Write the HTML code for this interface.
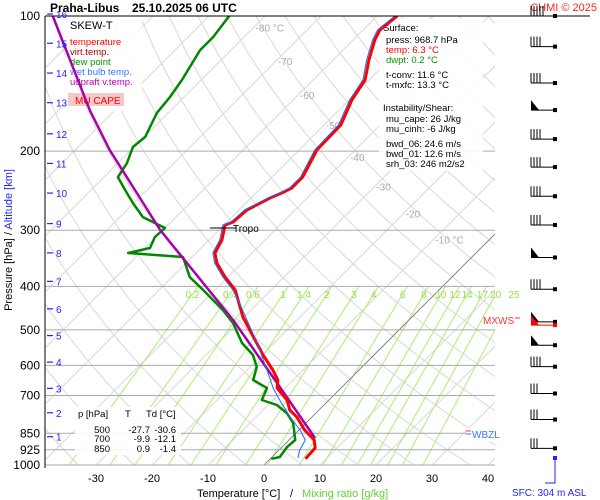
<!DOCTYPE html>
<html><head><meta charset="utf-8"><style>
html,body{margin:0;padding:0;background:#fff;}
svg{display:block;font-family:"Liberation Sans",sans-serif;}
</style></head><body>
<svg id="chart" width="600" height="500" viewBox="0 0 600 500" xmlns="http://www.w3.org/2000/svg">
<defs><clipPath id="plotclip"><rect x="45" y="16" width="450" height="449"/></clipPath></defs>
<rect x="0" y="0" width="600" height="500" fill="#fff"/>
<g id="grid" clip-path="url(#plotclip)"></g>
<g id="isobars"></g>
<g id="mixlabels" font-size="10" fill="#99dd44" text-anchor="middle"></g>
<g id="isolabels" font-size="10" fill="#aaaaaa"></g>
<g>
<rect x="66" y="17" width="76" height="94" fill="#fff" opacity="0.85"/>
<text x="70" y="29" font-size="11" fill="#000">SKEW-T</text>
<text x="70" y="45" font-size="9.5" fill="#ff0000">temperature</text>
<text x="70" y="55" font-size="9.5" fill="#aa0000">virt.temp.</text>
<text x="70" y="65" font-size="9.5" fill="#009900">dew point</text>
<text x="70" y="75" font-size="9.5" fill="#3377ff">wet bulb temp.</text>
<text x="70" y="85" font-size="9.5" fill="#bb00bb">udpraft v.temp.</text>
<rect x="68" y="93" width="56" height="13" fill="#f8c8c8"/>
<text x="75" y="104" font-size="10" fill="#ff0000">MU CAPE</text>
</g>
<g font-size="9.5">
<rect x="379" y="19" width="104" height="152" fill="#fff" opacity="0.9"/>
<text x="383" y="31" fill="#000">Surface:</text>
<text x="386" y="43" fill="#000">press: 968.7 hPa</text>
<text x="386" y="53" fill="#ff0000">temp: 6.3 °C</text>
<text x="386" y="63" fill="#009900">dwpt: 0.2 °C</text>
<text x="386" y="78" fill="#000">t-conv: 11.6 °C</text>
<text x="386" y="88" fill="#000">t-mxfc: 13.3 °C</text>
<text x="383" y="111" fill="#000">Instability/Shear:</text>
<text x="386" y="122" fill="#000">mu_cape: 26 J/kg</text>
<text x="386" y="132" fill="#000">mu_cinh: -6 J/kg</text>
<text x="386" y="147" fill="#000">bwd_06: 24.6 m/s</text>
<text x="386" y="157" fill="#000">bwd_01: 12.6 m/s</text>
<text x="386" y="167" fill="#000">srh_03: 246 m2/s2</text>
</g>
<g font-size="9.5" fill="#000">
<rect x="75" y="407" width="106" height="48" fill="#fff" opacity="0.9"/>
<text x="78" y="417">p [hPa]</text><text x="125" y="417">T</text><text x="146" y="417">Td [°C]</text>
<text x="110" y="433" text-anchor="end">500</text><text x="150" y="433" text-anchor="end">-27.7</text><text x="176" y="433" text-anchor="end">-30.6</text>
<text x="110" y="442" text-anchor="end">700</text><text x="150" y="442" text-anchor="end">-9.9</text><text x="176" y="442" text-anchor="end">-12.1</text>
<text x="110" y="452" text-anchor="end">850</text><text x="150" y="452" text-anchor="end">0.9</text><text x="176" y="452" text-anchor="end">-1.4</text>
</g>
<g id="series" clip-path="url(#plotclip)"></g>
<line x1="210" y1="228" x2="236" y2="228" stroke="#000" stroke-width="1"/>
<text x="233" y="232" font-size="10" fill="#000">Tropo</text>
<line x1="45" y1="16" x2="45" y2="468" stroke="#000" stroke-width="1"/>
<line x1="45" y1="16" x2="590" y2="16" stroke="#000" stroke-width="1"/>
<g id="yticks" font-size="12" fill="#000" text-anchor="end"></g>
<g id="kmticks" font-size="10" fill="#2222ff"></g>
<g id="xticks" font-size="11" fill="#000" text-anchor="middle"></g>
<text x="197" y="497" font-size="11" fill="#000">Temperature [°C]</text>
<text x="290" y="497" font-size="11" fill="#000">/</text>
<text x="302" y="497" font-size="11" fill="#66cc33">Mixing ratio [g/kg]</text>
<text transform="translate(12,240) rotate(-90)" font-size="11" text-anchor="middle"><tspan fill="#000">Pressure [hPa] / </tspan><tspan fill="#2222ff">Altitude [km]</tspan></text>
<text x="50" y="12" font-size="12" font-weight="bold" fill="#000">Praha-Libus</text>
<text x="132" y="12" font-size="12" font-weight="bold" fill="#000">25.10.2025 06 UTC</text>
<text x="597" y="11" font-size="11" fill="#ff2222" text-anchor="end">CHMI © 2025</text>
<text x="483" y="324" font-size="10" fill="#ff3333">MXWS</text>
<line x1="515" y1="318" x2="520" y2="318" stroke="#ff3333"/>
<rect x="466" y="428" width="42" height="14" fill="#fff" opacity="0.9"/>
<line x1="466" y1="431" x2="471" y2="431" stroke="#ff3333"/>
<line x1="466" y1="434" x2="471" y2="434" stroke="#3377ff"/>
<text x="472" y="438" font-size="10" fill="#3377ff">WBZL</text>
<g id="winds"></g>
<polyline points="555,458 555,483 545,483" fill="none" stroke="#2222ff" stroke-width="1"/>
<rect x="553" y="456" width="4" height="4" fill="#2222ff"/>
<text x="512" y="496" font-size="10" fill="#2222ff">SFC: 304 m ASL</text>
</svg>
<script>
var tempP = [100,107.4,113.1,125.3,138.8,153.8,174.9,198.8,228.4,241.6,247.9,254.3,270.4,287.6,292.1,315.4,337.2,354.9,381.5,407.6,468.1,526.8,568.9,614.3,646.8,674.0,716.5,754.4,782.0,835.6,879.6,916.7,968.7];
var tempT = [-56.4,-57.0,-56.1,-53.6,-50.7,-49.5,-47.0,-46.8,-44.5,-44.5,-45.4,-46.6,-48.6,-48.9,-49.8,-47.7,-46.6,-44.5,-40.5,-36.4,-30.2,-23.9,-19.8,-15.4,-12.7,-11.4,-7.5,-5.2,-2.7,1.0,4.5,6.1,6.3];
var dewP = [100,111.4,119.1,138.8,151.5,164.4,185.9,195.8,212.5,228.4,244.1,260.9,280.4,296.6,310.6,328.7,337.2,344.2,381.5,407.6,451.8,482.7,535.0,568.9,604.9,646.8,674.0,716.5,735.2,766.2,806.1,879.6,912.1,959.8,968.7];
var dewT = [-86.4,-85.5,-85.5,-83.4,-82.5,-82.0,-79.8,-80.2,-78.4,-77.5,-73.9,-70.2,-65.9,-60.0,-60.2,-59.1,-62.1,-51.6,-46.8,-42.1,-35.0,-30.9,-25.7,-21.6,-18.8,-17.1,-13.2,-12.0,-8.4,-5.2,-2.3,1.1,0.9,1.4,0.2];
var wetP = [100,107.4,113.1,125.3,138.8,153.8,174.9,198.8,228.4,241.6,247.9,254.3,270.4,287.6,292.1,315.4,337.2,354.9,381.5,407.6,429.0,535.0,624.0,674.0,716.5,782.0,835.6,879.6,926.0,964.7];
var wetT = [-56.8,-57.4,-56.5,-54.0,-51.1,-49.9,-47.4,-47.2,-44.9,-44.9,-45.8,-47.0,-49.0,-49.3,-50.2,-48.1,-47.0,-44.9,-40.9,-36.8,-34.1,-23.0,-15.7,-12.1,-8.8,-3.9,0.2,2.9,3.7,4.8];
var parcelP = [100,162.0,198.8,299.6,475.5,646.8,870.9];
var parcelT = [-117.9,-94.5,-83.8,-60.5,-31.4,-13.2,4.3];
var pressureTicks = [100,200,300,400,500,600,700,850,925,1000];
var kmLevels = [16,15,14,13,12,11,10,9,8,7,6,5,4,3,2,1];
var kmPressure = [99,115,134,156,183,213,248,290,337,390,449,515,590,675,765,865];
var tempTicks = [-30,-20,-10,0,10,20,30,40];
var isoLabelT = [-80,-70,-60,-50,-40,-30,-20,-10];
var isoLabelText = ["-80 °C","-70","-60","-50","-40","-30","-20","-10 °C"];
var isoLabelP = [106,126,150,175,206,240,275,315];
var mixRatios = [0.2,0.4,0.6,1,1.4,2,3,4,6,8,10,12,14,17,20,25];
var mixLabels = ["0.2","0.4","0.6","1","1.4","2","3","4","6","8","10","12","14","17","20","25"];
var windP = [100,117,141,162,188,217,252,292,345,406,480,488,541,604,693,792,918];
var windBarbs = [5,4,4,-1,4,4,4,4,-1,4,-1,-1,-1,4,3,3,3];

function Y(p){return 465-449*Math.log10(1000/p);}
function X(T,p){return 264+5.6*T+(465-Y(p));}
var NS="http://www.w3.org/2000/svg";
function mk(tag,parent,attrs){var e=document.createElementNS(NS,tag);for(var k in attrs)e.setAttribute(k,attrs[k]);parent.appendChild(e);return e;}
function pathFrom(ps,ts){var d="";for(var i=0;i<ps.length;i++){d+=(i?"L":"M")+X(ts[i],ps[i]).toFixed(1)+","+Y(ps[i]).toFixed(1);}return d;}

var grid=document.getElementById("grid");
for(var t=-130;t<=50;t+=10){
  var l=mk("line",grid,{x1:X(t,1000),y1:Y(1000),x2:X(t,100),y2:Y(100),stroke:"#d8d8d8","stroke-width":1});
  
  
}
for(var th=230;th<=500;th+=10){
  var d="";
  for(var p=1000;p>=100;p-=20){var T=th*Math.pow(p/1000,0.286)-273.15;d+=(p==1000?"M":"L")+X(T,p).toFixed(1)+","+Y(p).toFixed(1);}
  var a=mk("path",grid,{d:d,fill:"none",stroke:"#d8d8d8","stroke-width":1});
  
  
}
function mixT(w,p){var e=w*p/(622+w);var L=Math.log(e/6.112);return 243.5*L/(17.67-L);}
var ml=document.getElementById("mixlabels");
for(var i=0;i<mixRatios.length;i++){
  var w=mixRatios[i];
  var m=mk("line",grid,{x1:X(mixT(w,1000),1000),y1:Y(1000),x2:X(mixT(w,400),400),y2:Y(400),stroke:"#aaee77","stroke-width":1});
  
  
  var tx=mk("text",ml,{x:X(mixT(w,416),416).toFixed(1),y:298});
  tx.textContent=mixLabels[i];
  
  
}
var z=mk("line",grid,{x1:X(0,1000),y1:Y(1000),x2:X(0,100),y2:Y(100),stroke:"#777","stroke-width":0.8});


var il=document.getElementById("isolabels");
for(var i=0;i<isoLabelT.length;i++){
  var tx=mk("text",il,{x:(X(isoLabelT[i],isoLabelP[i])+2).toFixed(1),y:(Y(isoLabelP[i])+4).toFixed(1)});
  tx.textContent=isoLabelText[i];
  
  
}
var ib=document.getElementById("isobars");
var yt=document.getElementById("yticks");
for(var i=0;i<pressureTicks.length;i++){
  var p=pressureTicks[i];
  if(p!=100){
    var l=mk("line",ib,{x1:45,y1:Y(p),x2:495,y2:Y(p),stroke:"#aaaaaa","stroke-width":1});
    
    
  }
  var tx=mk("text",yt,{x:40,y:(Y(p)+4).toFixed(1)});
  tx.textContent=String(p);
  
  
}
var kt=document.getElementById("kmticks");
for(var i=0;i<kmLevels.length;i++){
  var y=Y(kmPressure[i]);
  var l=mk("line",kt,{x1:47,y1:y,x2:53,y2:y,stroke:"#2222ff","stroke-width":1.2});
  
  
  var tx=mk("text",kt,{x:56,y:(y+4).toFixed(1)});
  tx.textContent=String(kmLevels[i]);
  
  
}
var xt=document.getElementById("xticks");
for(var i=0;i<tempTicks.length;i++){
  var tx=mk("text",xt,{x:X(tempTicks[i],1000).toFixed(1),y:482});
  tx.textContent=String(tempTicks[i]);
  
  
}
var sg=document.getElementById("series");
var dp=mk("path",sg,{d:pathFrom(dewP,dewT),fill:"none",stroke:"#008800","stroke-width":2.5,"stroke-linejoin":"round"});


var pc=mk("path",sg,{d:pathFrom(parcelP,parcelT),fill:"none",stroke:"#aa00aa","stroke-width":2.5,"stroke-linejoin":"round"});


var tp=mk("path",sg,{d:pathFrom(tempP,tempT),fill:"none",stroke:"#ff0000","stroke-width":3,"stroke-linejoin":"round"});


var wb=mk("path",sg,{d:pathFrom(wetP,wetT),fill:"none",stroke:"#2266ff","stroke-width":1,"stroke-linejoin":"round"});


var wg=document.getElementById("winds");
for(var i=0;i<windP.length;i++){
  var y=Y(windP[i]);
  var col=(windP[i]==488)?"#ff0000":"#000";
  var s=mk("line",wg,{x1:531,y1:y,x2:555,y2:y,stroke:col,"stroke-width":1});
  
  
  var dot=mk("rect",wg,{x:553,y:y-2,width:4,height:4,fill:col});
  
  
  if(windBarbs[i]<0){
    var f=mk("polygon",wg,{points:"531,"+(y-10)+" 531,"+y+" 539,"+y,fill:col});
    
    
  } else {
    for(var k=0;k<windBarbs[i];k++){
      var b=mk("line",wg,{x1:531+k*3,y1:y,x2:531+k*3,y2:y-10,stroke:col,"stroke-width":1});
      
      
    }
  }
}
</script>
</body></html>
